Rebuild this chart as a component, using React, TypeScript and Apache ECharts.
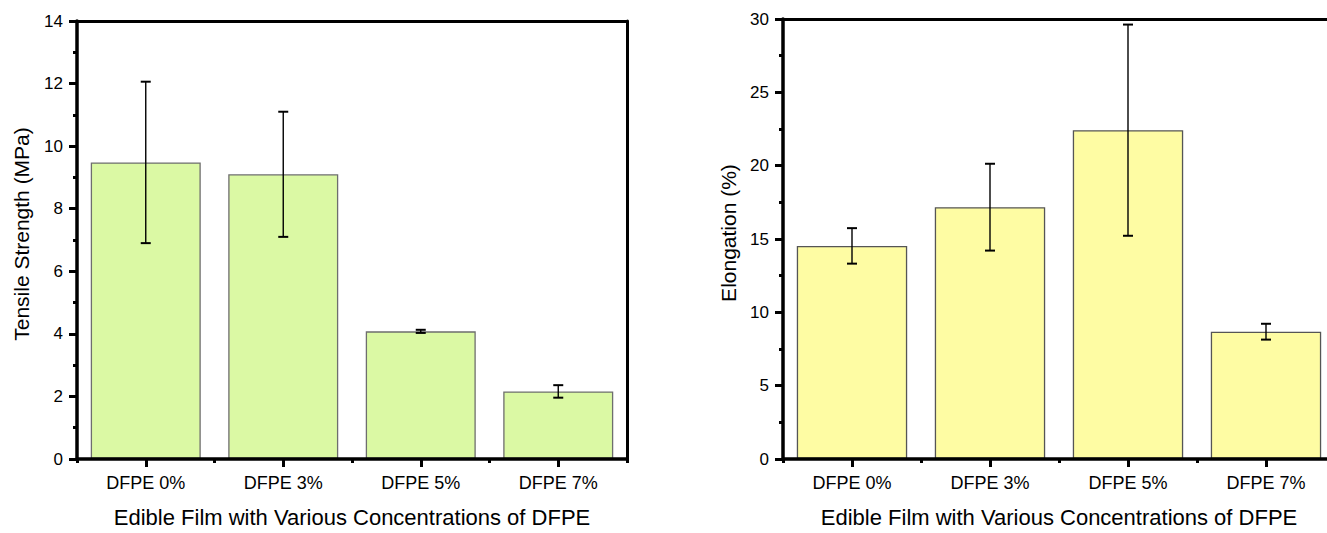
import React, { useEffect, useRef } from "react";
import * as echarts from "echarts";

const categories = ["DFPE 0%", "DFPE 3%", "DFPE 5%", "DFPE 7%"];
const tensile = [9.48, 9.1, 4.08, 2.16];
const tensileErr = [2.58, 2.0, 0.05, 0.2];
const elongation = [14.53, 17.17, 22.42, 8.68];
const elongationErr = [1.21, 2.96, 7.2, 0.54];
const xTitle = "Edible Film with Various Concentrations of DFPE";
const yTitleLeft = "Tensile Strength (MPa)";
const yTitleRight = "Elongation (%)";

const FONT = "'Liberation Sans', Arial, sans-serif";
const AX_W = 3;
const AX_COLOR = "#000000";

function errorRender(params: any, api: any) {
  const x = api.value(0);
  const y = api.value(1);
  const e = api.value(2);
  const top = api.coord([x, y + e]);
  const bot = api.coord([x, y - e]);
  const cw = 5;
  const style = { stroke: "#000", lineWidth: 1.4 };
  return {
    type: "group",
    children: [
      { type: "line", shape: { x1: top[0], y1: top[1], x2: bot[0], y2: bot[1] }, style },
      { type: "line", shape: { x1: top[0] - cw, y1: top[1], x2: top[0] + cw, y2: top[1] }, style: { stroke: "#000", lineWidth: 2 } },
      { type: "line", shape: { x1: bot[0] - cw, y1: bot[1], x2: bot[0] + cw, y2: bot[1] }, style: { stroke: "#000", lineWidth: 2 } },
    ],
  };
}

function mainX(gridIndex: number) {
  return {
    type: "category",
    gridIndex,
    data: categories,
    position: "bottom",
    z: 5,
    axisLine: { show: true, lineStyle: { color: AX_COLOR, width: 3.5 } },
    axisTick: { show: true, alignWithLabel: true, length: 8, lineStyle: { color: AX_COLOR, width: AX_W } },
    axisLabel: { color: "#000", fontSize: 18, fontFamily: FONT, margin: 15 },
    name: xTitle,
    nameLocation: "middle",
    nameGap: 47,
    nameTextStyle: { color: "#000", fontSize: 22, fontFamily: FONT },
    splitLine: { show: false },
  };
}

function minorX(gridIndex: number) {
  return {
    type: "category",
    gridIndex,
    data: categories,
    position: "bottom",
    z: 5,
    axisLine: { show: false },
    axisTick: { show: true, alignWithLabel: false, length: 4, lineStyle: { color: AX_COLOR, width: AX_W } },
    axisLabel: { show: false },
    splitLine: { show: false },
  };
}

function topX(gridIndex: number) {
  return {
    type: "category",
    gridIndex,
    data: categories,
    position: "top",
    z: 5,
    axisLine: { show: true, lineStyle: { color: AX_COLOR, width: AX_W } },
    axisTick: { show: false },
    axisLabel: { show: false },
    splitLine: { show: false },
  };
}

function yAx(gridIndex: number, max: number, interval: number, name: string, gap: number) {
  return {
    type: "value",
    gridIndex,
    min: 0,
    max,
    interval,
    position: "left",
    z: 5,
    axisLine: { show: true, lineStyle: { color: AX_COLOR, width: 3.5 } },
    axisTick: { show: true, length: 8, lineStyle: { color: AX_COLOR, width: AX_W } },
    minorTick: { show: true, splitNumber: 2, length: 4, lineStyle: { color: AX_COLOR, width: AX_W } },
    splitLine: { show: false },
    minorSplitLine: { show: false },
    axisLabel: { color: "#000", fontSize: 17, fontFamily: FONT, margin: 14 },
    name,
    nameLocation: "middle",
    nameRotate: 90,
    nameGap: gap,
    nameTextStyle: { color: "#000", fontSize: 21, fontFamily: FONT, padding: [0, 0, 0, 12] },
  };
}

function rightY(gridIndex: number, max: number) {
  return {
    type: "value",
    gridIndex,
    min: 0,
    max,
    position: "right",
    z: 5,
    axisLine: { show: true, lineStyle: { color: AX_COLOR, width: AX_W } },
    axisTick: { show: false },
    axisLabel: { show: false },
    splitLine: { show: false },
  };
}

export default function App() {
  const ref = useRef<HTMLDivElement>(null);
  useEffect(() => {
    if (!ref.current) return;
    const chart = echarts.init(ref.current, undefined, { renderer: "svg" });
    chart.setOption({
      animation: false,
      backgroundColor: "#fff",
      grid: [
        { left: 77, top: 21, width: 550, bottom: 69 },
        { left: 783, top: 19, width: 552, bottom: 68 },
      ],
      xAxis: [mainX(0), minorX(0), topX(0), mainX(1), minorX(1), topX(1)],
      yAxis: [yAx(0, 14, 2, yTitleLeft, 45), yAx(1, 30, 5, yTitleRight, 44), rightY(0, 14), rightY(1, 30)],
      series: [
        {
          type: "bar",
          xAxisIndex: 0,
          yAxisIndex: 0,
          data: tensile,
          barWidth: "80%",
          itemStyle: { color: "#dbf9a4", borderColor: "#6e6e6e", borderWidth: 1.3 },
        },
        {
          type: "custom",
          xAxisIndex: 0,
          yAxisIndex: 0,
          z: 10,
          renderItem: errorRender,
          data: tensile.map((v, i) => [i, v, tensileErr[i]]),
        },
        {
          type: "bar",
          xAxisIndex: 3,
          yAxisIndex: 1,
          data: elongation,
          barWidth: "80%",
          itemStyle: { color: "#fefca3", borderColor: "#555", borderWidth: 1.3 },
        },
        {
          type: "custom",
          xAxisIndex: 3,
          yAxisIndex: 1,
          z: 10,
          renderItem: errorRender,
          data: elongation.map((v, i) => [i, v, elongationErr[i]]),
        },
      ],
    });
    return () => chart.dispose();
  }, []);
  return (
    <div style={{ position: "fixed", left: 0, top: 0, width: 1327, height: 533, overflow: "hidden", background: "#fff" }}>
      <div ref={ref} style={{ width: 1340, height: 533 }} />
    </div>
  );
}
